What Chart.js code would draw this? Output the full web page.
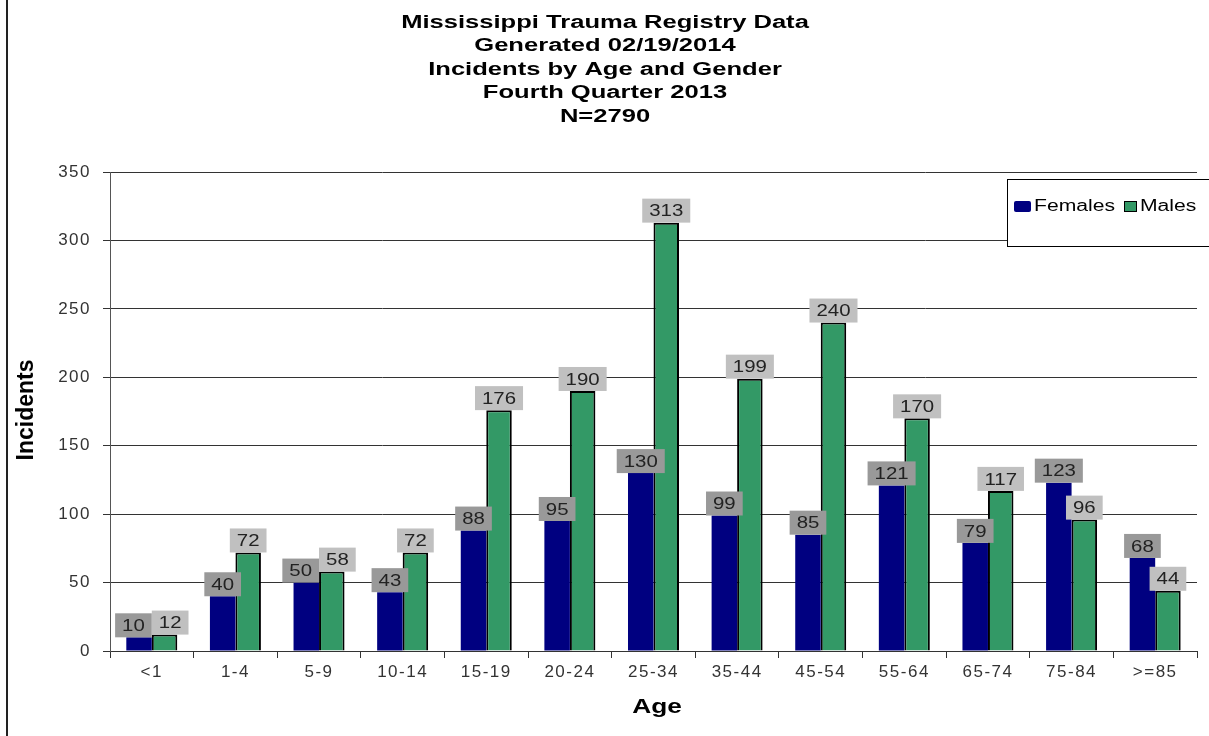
<!DOCTYPE html>
<html>
<head>
<meta charset="utf-8">
<title>Incidents by Age and Gender</title>
<script src="https://cdn.jsdelivr.net/npm/chart.js@4.4.1/dist/chart.umd.min.js"></script>
<style>
  html, body { margin: 0; padding: 0; background: #fff; }
  #chart { display: block; }
</style>
</head>
<body>
<canvas id="chart" width="1209" height="736"></canvas>
<script>
// ── DATA ─────────────────────────────────────────────────────────────────────
const AGE_GROUPS = ['<1','1-4','5-9','10-14','15-19','20-24','25-34','35-44','45-54','55-64','65-74','75-84','>=85'];
const FEMALES = [10, 40, 50, 43, 88, 95, 130, 99, 85, 121, 79, 123, 68];
const MALES   = [12, 72, 58, 72, 176, 190, 313, 199, 240, 170, 117, 96, 44];
const TITLE_LINES = [
  'Mississippi Trauma Registry Data',
  'Generated 02/19/2014',
  'Incidents by Age and Gender',
  'Fourth Quarter 2013',
  'N=2790',
];
const Y_MAX = 350;
const Y_STEP = 50;

// ── STYLE ────────────────────────────────────────────────────────────────────
const NAVY  = '#000080';
const GREEN = '#339966';
const FONT  = '"Liberation Sans", Arial, sans-serif';
const NARROW = '"Liberation Sans Narrow", "Liberation Sans", Arial, sans-serif';

// draw text stretched horizontally (the source image is wide)
function wideText(ctx, text, x, y, sx) {
  ctx.save();
  ctx.translate(x, y);
  ctx.scale(sx, 1);
  ctx.fillText(text, 0, 0);
  ctx.restore();
}

function spacing(chart) { chart.ctx.letterSpacing = '1.5px'; }

// ── PLUGIN: titles, frame, legend, value boxes ───────────────────────────────
const decorations = {
  id: 'decorations',
  beforeLayout: spacing,
  beforeDraw(chart) {
    spacing(chart);
    const ctx = chart.ctx;
    ctx.save();
    ctx.letterSpacing = '0px';
    // left frame line
    ctx.strokeStyle = '#222';
    ctx.lineWidth = 2;
    ctx.beginPath(); ctx.moveTo(7, 0); ctx.lineTo(7, 736); ctx.stroke();

    // main title
    ctx.fillStyle = '#000';
    ctx.textAlign = 'center';
    ctx.textBaseline = 'middle';
    ctx.font = 'bold 18px ' + FONT;
    TITLE_LINES.forEach((t, i) => wideText(ctx, t, 605, 23 + i * 23.5, 1.42));

    // axis titles
    ctx.font = 'bold 23px ' + NARROW;
    ctx.save();
    ctx.translate(27, 410);
    ctx.rotate(-Math.PI / 2);
    ctx.fillText('Incidents', 0, 0);
    ctx.restore();
    ctx.font = 'bold 21px ' + FONT;
    wideText(ctx, 'Age', 657, 707, 1.25);
    ctx.restore();
  },
  afterDatasetsDraw(chart) {
    const ctx = chart.ctx;
    ctx.save();
    ctx.letterSpacing = '0px';
    ctx.font = '17px ' + FONT;
    ctx.textAlign = 'center';
    ctx.textBaseline = 'middle';
    const boxFill = ['#999999', '#c0c0c0'];
    const h = 24;
    const fMeta = chart.getDatasetMeta(0).data;
    const mMeta = chart.getDatasetMeta(1).data;
    const boxW = t => ctx.measureText(t).width * 1.2 + 14;

    AGE_GROUPS.forEach((_, i) => {
      const f = fMeta[i], m = mMeta[i];
      const fw = boxW(String(FEMALES[i])), mw = boxW(String(MALES[i]));
      let fx = f.x, mx = m.x;
      // push the two boxes apart when they collide
      const overlapX = (fx + fw / 2) - (mx - mw / 2);
      const overlapY = Math.abs(f.y - m.y) < h;
      if (overlapX > 0 && overlapY) { fx -= overlapX / 2; mx += overlapX / 2; }
      [[f, fx, fw, FEMALES[i], 0], [m, mx, mw, MALES[i], 1]].forEach(([bar, x, w, v, di]) => {
        ctx.fillStyle = boxFill[di];
        ctx.fillRect(x - w / 2, bar.y - h, w, h);
        ctx.fillStyle = '#222';
        wideText(ctx, String(v), x, bar.y - h / 2 + 1, 1.2);
      });
    });

    // legend box (runs off the right edge like the source)
    ctx.fillStyle = '#fff';
    ctx.fillRect(1007, 179, 202, 68);
    ctx.strokeStyle = '#000';
    ctx.lineWidth = 1;
    ctx.strokeRect(1007.5, 179.5, 210, 67);
    ctx.fillStyle = NAVY;
    ctx.beginPath(); ctx.roundRect(1014, 201, 17, 11, 2); ctx.fill();
    ctx.fillStyle = GREEN;
    ctx.fillRect(1124, 201, 13, 11);
    ctx.strokeRect(1124.5, 201.5, 12, 10);
    ctx.fillStyle = '#000';
    ctx.font = '16px ' + FONT;
    ctx.textAlign = 'left';
    wideText(ctx, 'Females', 1034, 207, 1.32);
    wideText(ctx, 'Males', 1140, 207, 1.32);
    ctx.restore();
  },
};

// ── CHART ────────────────────────────────────────────────────────────────────
new Chart(document.getElementById('chart'), {
  type: 'bar',
  data: {
    labels: AGE_GROUPS,
    datasets: [
      { label: 'Females', data: FEMALES, backgroundColor: NAVY, borderWidth: 0 },
      { label: 'Males', data: MALES, backgroundColor: GREEN, borderColor: '#000', borderWidth: 2, borderSkipped: 'bottom' },
    ],
  },
  options: {
    responsive: false,
    animation: false,
    devicePixelRatio: 1,
    categoryPercentage: 0.61,
    barPercentage: 1,
    layout: { padding: { top: 172, right: 12, left: 0, bottom: 0 } },
    plugins: { legend: { display: false }, title: { display: false }, tooltip: { enabled: false } },
    scales: {
      x: {
        afterFit(s) { s.height = 85; },
        grid: { drawOnChartArea: false, drawTicks: true, tickLength: 7, tickColor: '#333', offset: true },
        border: { color: '#333', width: 1 },
        ticks: { color: '#333', font: { family: FONT, size: 17 }, padding: 4, maxRotation: 0, autoSkip: false },
      },
      y: {
        min: 0, max: Y_MAX,
        afterFit(s) { s.width = 110; },
        grid: { color: '#333', lineWidth: 1, tickLength: 7, tickColor: '#333' },
        border: { color: '#555', width: 1 },
        ticks: { stepSize: Y_STEP, color: '#333', font: { family: FONT, size: 17 }, padding: 12 },
      },
    },
  },
  plugins: [decorations],
});
</script>
</body>
</html>
